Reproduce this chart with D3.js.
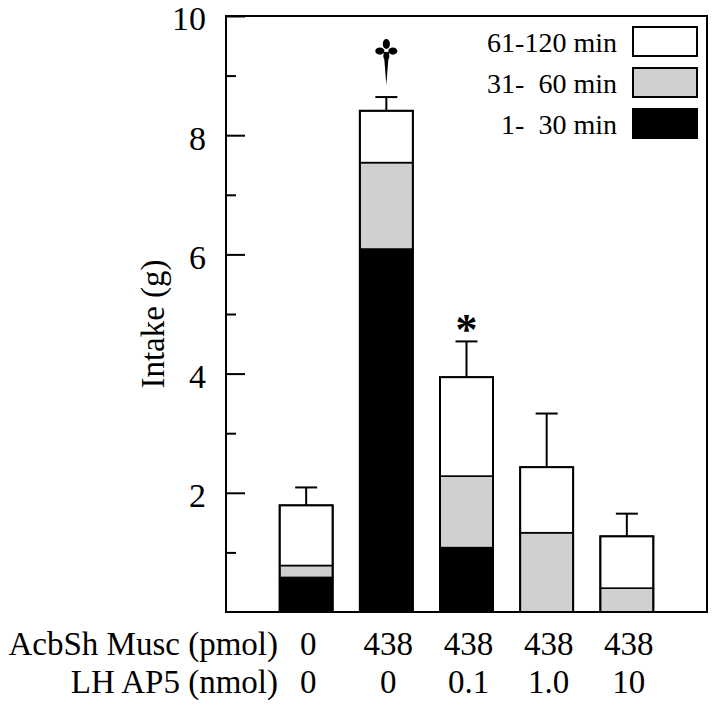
<!DOCTYPE html>
<html>
<head>
<meta charset="utf-8">
<script src="https://cdn.jsdelivr.net/npm/d3@7"></script>
</head>
<body style="margin:0">
<div id="wrapper"></div>
<script>
// Data
const acbshMusc = ["0", "438", "438", "438", "438"]
const lhAP5 = ["0", "0", "0.1", "1.0", "10"]
const min1to30 = [0.58, 6.09, 1.08, 0, 0]
const min31to60 = [0.2, 1.45, 1.2, 1.33, 0.4]
const min61to120 = [1.01, 0.87, 1.66, 1.1, 0.87]
const sem = [0.3, 0.23, 0.6, 0.9, 0.38]
const seriesKeys = ["a", "b", "c"]
const seriesLabels = ["1-  30 min", "31-  60 min", "61-120 min"]
const seriesColors = ["#000000", "#d0d0d0", "#ffffff"]
const majorTicks = [2, 4, 6, 8, 10]
const minorTicks = [1, 3, 5, 7, 9]
const markers = [{ bar: 1, symbol: "dagger" }, { bar: 2, symbol: "*" }]

const serif = "Liberation Serif"

const table = acbshMusc.map((d, i) => ({
  i: i,
  a: min1to30[i],
  b: min31to60[i],
  c: min61to120[i],
  sem: sem[i],
}))

// Dimensions
let dimensions = {
  width: 720,
  height: 706,
  margin: { top: 16, right: 13, bottom: 94, left: 226 },
}
dimensions.boundedWidth = dimensions.width - dimensions.margin.left - dimensions.margin.right
dimensions.boundedHeight = dimensions.height - dimensions.margin.top - dimensions.margin.bottom

const wrapper = d3.select("#wrapper")
  .append("svg")
  .attr("width", dimensions.width)
  .attr("height", dimensions.height)

const bounds = wrapper.append("g")
  .attr("transform", `translate(${dimensions.margin.left},${dimensions.margin.top})`)

// Scales
const xScale = d3.scalePoint()
  .domain(d3.range(acbshMusc.length))
  .range([0, dimensions.boundedWidth])
  .padding(1)

const yScale = d3.scaleLinear()
  .domain([0, 10])
  .range([dimensions.boundedHeight, 0])

const barWidth = 53
const total = d => d.a + d.b + d.c

// Bars
const stacked = d3.stack().keys(seriesKeys)(table)

bounds.selectAll("g.series")
  .data(stacked)
  .enter().append("g")
  .attr("class", "series")
  .attr("fill", (d, i) => seriesColors[i])
  .selectAll("rect")
  .data(d => d.filter(s => s[1] - s[0] > 0))
  .enter().append("rect")
  .attr("x", d => xScale(d.data.i) - barWidth / 2)
  .attr("y", d => yScale(d[1]))
  .attr("width", barWidth)
  .attr("height", d => yScale(d[0]) - yScale(d[1]))
  .attr("stroke", "#000")
  .attr("stroke-width", 1.6)

// outline of each whole bar
bounds.selectAll("rect.outline")
  .data(table)
  .enter().append("rect")
  .attr("class", "outline")
  .attr("x", d => xScale(d.i) - barWidth / 2)
  .attr("y", d => yScale(total(d)))
  .attr("width", barWidth)
  .attr("height", d => yScale(0) - yScale(total(d)))
  .attr("fill", "none")
  .attr("stroke", "#000")
  .attr("stroke-width", 2)

// Error bars (upper only)
const errors = bounds.selectAll("g.err")
  .data(table)
  .enter().append("g")
  .attr("class", "err")
  .attr("stroke", "#000")
  .attr("stroke-width", 2)

errors.append("line")
  .attr("x1", d => xScale(d.i))
  .attr("x2", d => xScale(d.i))
  .attr("y1", d => yScale(total(d)))
  .attr("y2", d => yScale(total(d) + d.sem))

errors.append("line")
  .attr("x1", d => xScale(d.i) - 11)
  .attr("x2", d => xScale(d.i) + 11)
  .attr("y1", d => yScale(total(d) + d.sem))
  .attr("y2", d => yScale(total(d) + d.sem))

// Significance markers
markers.forEach(m => {
  const d = table[m.bar]
  const cx = xScale(d.i)
  const top = yScale(total(d) + d.sem)
  if (m.symbol === "dagger") {
    const by = top - 12   // bottom tip of dagger
    const g = bounds.append("g").attr("fill", "#000")
    g.append("path")
      .attr("d", `M${cx - 2.6},${by - 33} L${cx + 2.6},${by - 33} L${cx},${by} Z`)
    g.append("ellipse").attr("cx", cx).attr("cy", by - 41).attr("rx", 3.6).attr("ry", 5)
    g.append("ellipse").attr("cx", cx - 6.5).attr("cy", by - 34).attr("rx", 4.6).attr("ry", 3.6)
    g.append("ellipse").attr("cx", cx + 6.5).attr("cy", by - 34).attr("rx", 4.6).attr("ry", 3.6)
    g.append("ellipse").attr("cx", cx).attr("cy", by - 29).attr("rx", 3).attr("ry", 4)
  } else {
    bounds.append("text")
      .attr("x", cx)
      .attr("y", top + 3)
      .attr("text-anchor", "middle")
      .attr("font-family", serif)
      .attr("font-size", 44)
      .attr("font-weight", "bold")
      .text(m.symbol)
  }
})

// Frame
bounds.append("rect")
  .attr("width", dimensions.boundedWidth)
  .attr("height", dimensions.boundedHeight)
  .attr("fill", "none")
  .attr("stroke", "#000")
  .attr("stroke-width", 2)

// Y axis, ticks pointing inward
const yAxisGenerator = d3.axisLeft(yScale)
  .tickValues(majorTicks)
  .tickSize(-19)
  .tickPadding(20)
  .tickFormat(d3.format("d"))

const yAxis = bounds.append("g").call(yAxisGenerator)
yAxis.attr("font-family", serif).attr("font-size", 34)
yAxis.select(".domain").remove()
yAxis.selectAll(".tick line").attr("stroke-width", 2)
yAxis.selectAll(".tick text")
  .attr("dy", "0.41em")

const yMinor = bounds.append("g")
  .call(d3.axisLeft(yScale).tickValues(minorTicks).tickSize(-10).tickFormat(""))
yMinor.select(".domain").remove()
yMinor.selectAll(".tick line").attr("stroke-width", 2)

bounds.append("text")
  .attr("transform", `translate(-62,${dimensions.boundedHeight / 2 + 10}) rotate(-90)`)
  .attr("text-anchor", "middle")
  .attr("font-family", serif)
  .attr("font-size", 33)
  .text("Intake (g)")

// Legend (top to bottom: 61-120, 31-60, 1-30)
const legendOrder = [2, 1, 0]
const legend = bounds.selectAll("g.legend")
  .data(legendOrder)
  .enter().append("g")
  .attr("class", "legend")
  .attr("transform", (d, j) => `translate(${dimensions.boundedWidth - 74},${11 + j * 41})`)

legend.append("rect")
  .attr("width", 64)
  .attr("height", 29)
  .attr("fill", d => seriesColors[d])
  .attr("stroke", "#000")
  .attr("stroke-width", 2)

legend.append("text")
  .attr("x", -16)
  .attr("y", 15)
  .attr("dy", "0.35em")
  .attr("text-anchor", "end")
  .attr("font-family", serif)
  .attr("font-size", 28)
  .attr("xml:space", "preserve")
  .style("white-space", "pre")
  .text(d => seriesLabels[d])

// Treatment labels under the axis
const rows = [
  { name: "AcbSh Musc (pmol)", values: acbshMusc, y: dimensions.boundedHeight + 43 },
  { name: "LH AP5 (nmol)", values: lhAP5, y: dimensions.boundedHeight + 81 },
]

rows.forEach(r => {
  bounds.append("text")
    .attr("x", 278 - dimensions.margin.left)
    .attr("y", r.y)
    .attr("text-anchor", "end")
    .attr("font-family", serif)
    .attr("font-size", 33)
    .text(r.name)

  bounds.selectAll(null)
    .data(r.values)
    .enter().append("text")
    .attr("x", (d, i) => xScale(i) + 2)
    .attr("y", r.y)
    .attr("text-anchor", "middle")
    .attr("font-family", serif)
    .attr("font-size", 33)
    .text(d => d)
})
</script>
</body>
</html>
